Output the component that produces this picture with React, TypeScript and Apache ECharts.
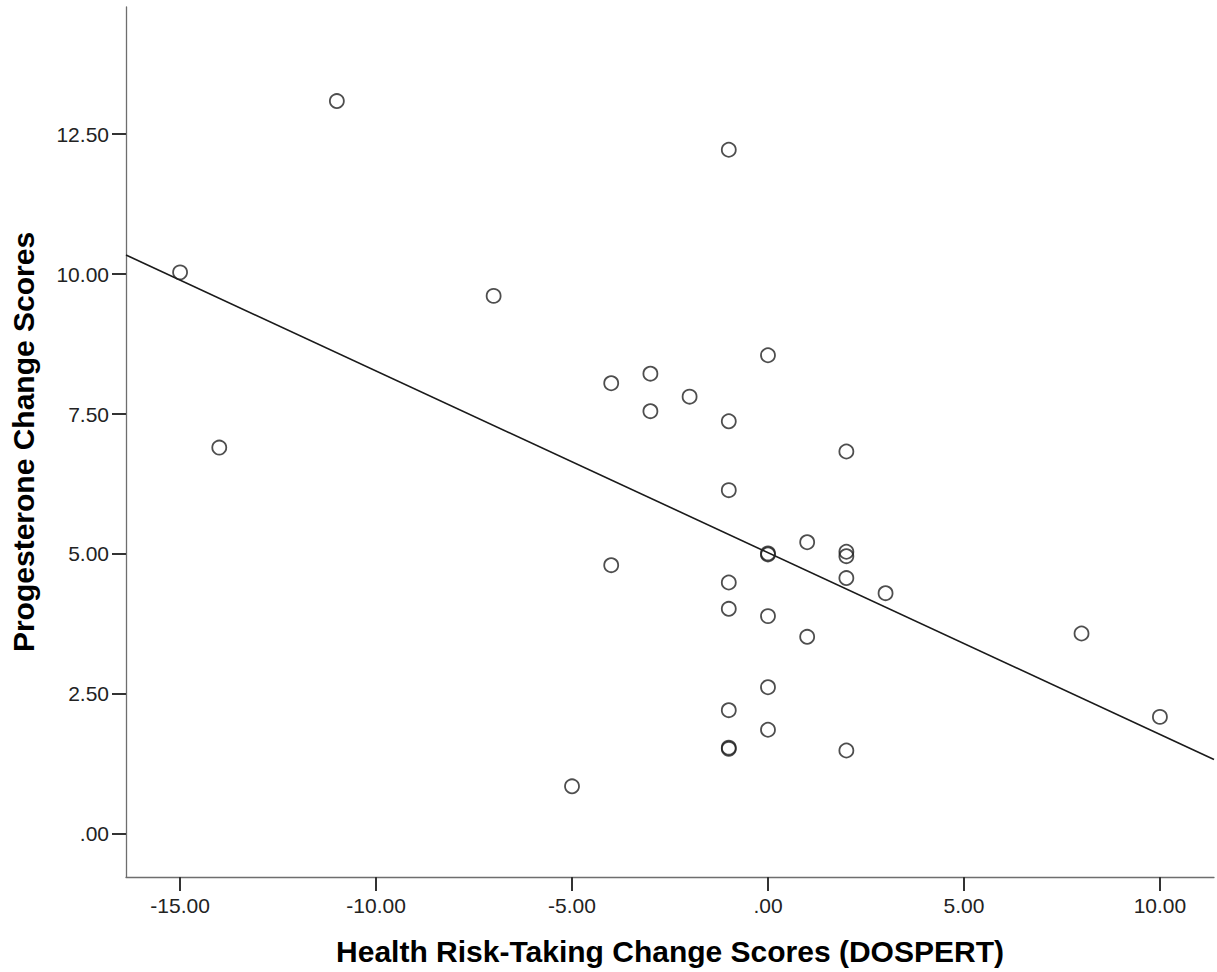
import React, { useEffect, useRef } from "react";
import * as echarts from "echarts";

// Scatter data (x: DOSPERT change, y: progesterone change)
const healthRiskChange = [
  -11, -1, -15, -7, 0, -4, -3, -2, -3, -1, -14, 2, -1, 1, 0, 0, 2, 2, -4, -1, 2, 3, -1, 0, 1, 8, 0, -1, 0, -1, -1, 2, 10, -5,
];
const progesteroneChange = [
  13.09, 12.22, 10.03, 9.61, 8.55, 8.05, 8.22, 7.81, 7.55, 7.37, 6.9, 6.83, 6.14, 5.21, 4.99, 5.01, 5.04, 4.96, 4.8, 4.49,
  4.57, 4.3, 4.02, 3.89, 3.52, 3.58, 2.62, 2.21, 1.86, 1.52, 1.54, 1.49, 2.09, 0.85,
];

// Fit line endpoints
const fitLineX = [-16.38, 11.38];
const fitLineY = [10.34, 1.33];

// Axis ticks
const xTicks = [-15, -10, -5, 0, 5, 10];
const yTicks = [0, 2.5, 5, 7.5, 10, 12.5];
const xRange = [-16.38, 11.38];
const yRange = [-0.77, 14.77];

const xTitle = "Health Risk-Taking Change Scores (DOSPERT)";
const yTitle = "Progesterone Change Scores";

const fmt = (v: number) => (v === 0 ? ".00" : v.toFixed(2));
const FONT = '"Liberation Sans", Arial, sans-serif';

export default function App() {
  const ref = useRef<HTMLDivElement>(null);
  useEffect(() => {
    if (!ref.current) return;
    const chart = echarts.init(ref.current, null, { renderer: "svg" });
    const axisCommon = {
      splitLine: { show: false },
      axisLine: { show: true, onZero: false, lineStyle: { color: "#6e6e6e", width: 1.3 } },
      axisTick: { show: true, length: 14, lineStyle: { color: "#333", width: 2 } },
      nameTextStyle: { fontFamily: FONT, fontSize: 30, fontWeight: "bold", color: "#000" },
      nameLocation: "middle" as const,
    };
    chart.setOption({
      animation: false,
      backgroundColor: "#fff",
      grid: { left: 126, top: 7, right: 3, bottom: 95, containLabel: false, outerBoundsMode: "none" },
      xAxis: {
        ...axisCommon,
        type: "value",
        min: xRange[0],
        max: xRange[1],
        name: xTitle,
        nameGap: 59,
        axisTick: { ...axisCommon.axisTick, customValues: xTicks },
        axisLabel: {
          customValues: xTicks,
          formatter: fmt,
          margin: 18,
          fontFamily: FONT,
          fontSize: 21,
          color: "#222",
        },
      },
      yAxis: {
        ...axisCommon,
        type: "value",
        min: yRange[0],
        max: yRange[1],
        name: yTitle,
        nameGap: 88,
        nameRotate: 90,
        axisTick: { ...axisCommon.axisTick, customValues: yTicks },
        axisLabel: {
          customValues: yTicks,
          formatter: fmt,
          margin: 17,
          fontFamily: FONT,
          fontSize: 21,
          color: "#222",
        },
      },
      series: [
        {
          type: "line",
          data: fitLineX.map((x, i) => [x, fitLineY[i]]),
          showSymbol: false,
          symbol: "none",
          lineStyle: { color: "#1a1a1a", width: 1.6 },
          silent: true,
          z: 2,
        },
        {
          type: "scatter",
          data: healthRiskChange.map((x, i) => [x, progesteroneChange[i]]),
          symbol: "circle",
          symbolSize: 14,
          itemStyle: { color: "rgba(255,255,255,0)", borderColor: "#222", borderWidth: 1.8 },
          z: 3,
        },
      ],
    });
    return () => chart.dispose();
  }, []);
  return (
    <div
      ref={ref}
      style={{ position: "fixed", left: 0, top: 0, width: 1217, height: 972, background: "#fff" }}
    />
  );
}
